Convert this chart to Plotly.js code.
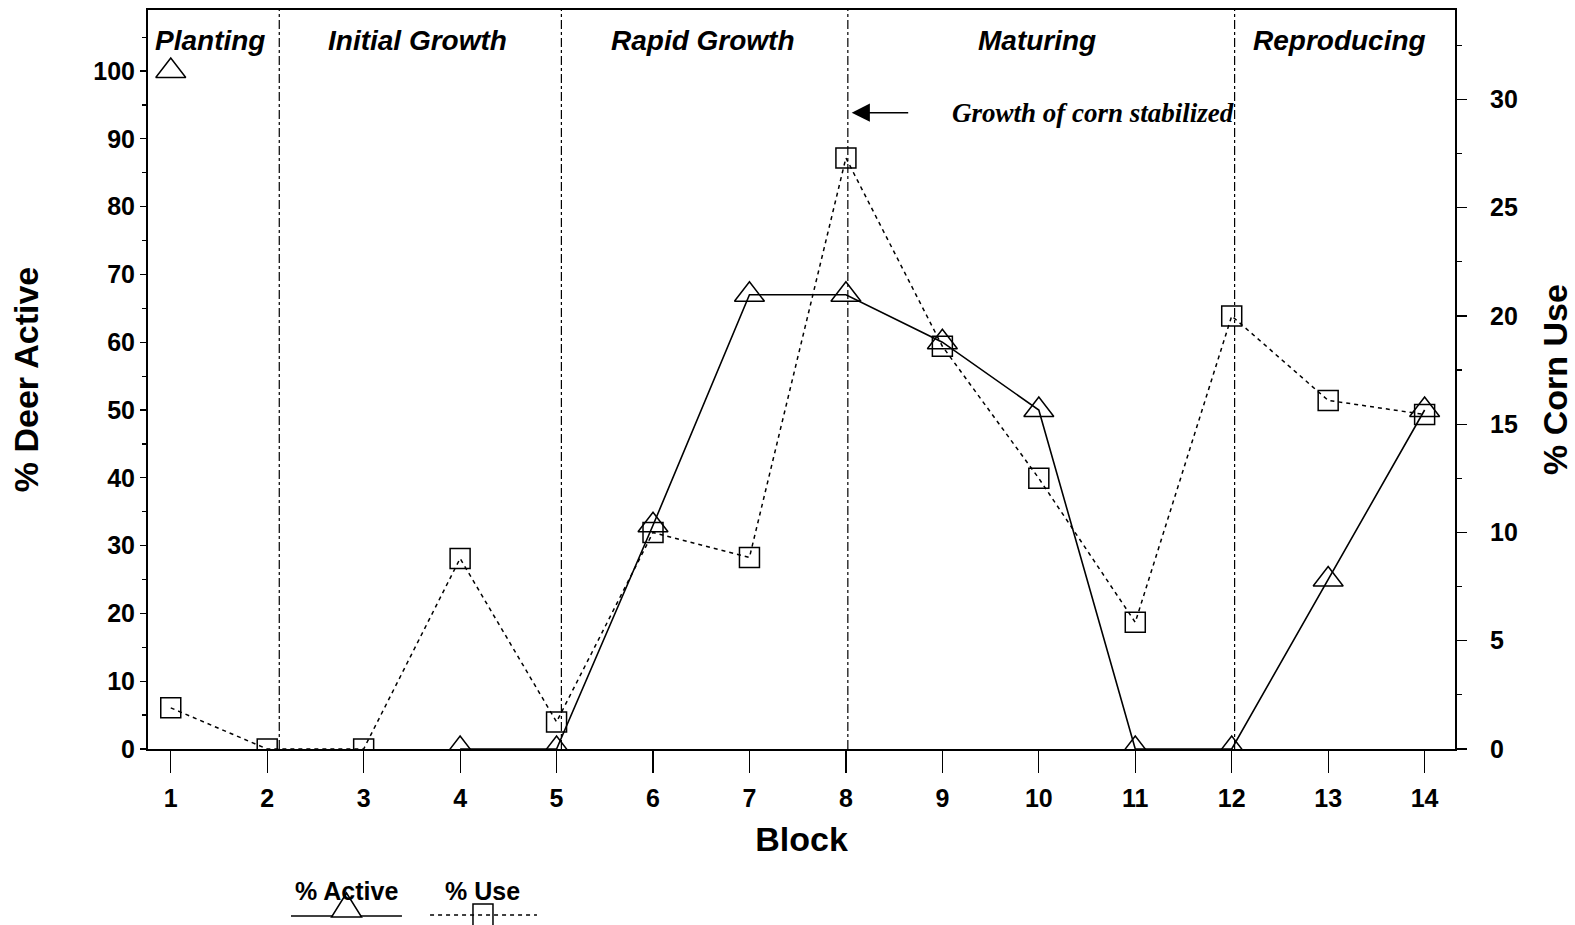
<!DOCTYPE html>
<html>
<head>
<meta charset="utf-8">
<script src="https://cdn.plot.ly/plotly-3.0.1.min.js"></script>
<style>html,body{margin:0;padding:0;background:#fff;}#chart{width:1575px;height:925px;}</style>
</head>
<body>
<div id="chart"></div>
<script>
// ---- data ----
var blocks = [1, 2, 3, 4, 5, 6, 7, 8, 9, 10, 11, 12, 13, 14];
var pctActive = [100, null, null, 0, 0, 33, 67, 67, 60, 50, 0, 0, 25, 50];
var pctUse = [1.9, 0, 0, 8.8, 1.25, 10.0, 8.85, 27.3, 18.6, 12.5, 5.85, 20.0, 16.1, 15.45];
var phaseNames = ["Planting", "Initial Growth", "Rapid Growth", "Maturing", "Reproducing"];
var phaseLabelX = [1.41, 3.56, 6.52, 9.98, 13.12];
var phaseBoundaries = [2.125, 5.05, 8.02, 12.03];
var noteText = "Growth of corn stabilized";
var noteBlock = 8.06;
var leftTicks = [0, 10, 20, 30, 40, 50, 60, 70, 80, 90, 100];
var rightTicks = [0, 5, 10, 15, 20, 25, 30];

var SANS = "Liberation Sans, Arial, Helvetica, sans-serif";
var SERIF = "Liberation Serif, Times New Roman, serif";

var traces = [
  {
    x: blocks, y: pctActive, name: "% Active", yaxis: "y",
    mode: "lines+markers", connectgaps: false,
    line: {color: "#000", width: 1.6, dash: "solid"},
    marker: {symbol: "triangle-up-open", size: 26, color: "#000", line: {width: 1.5, color: "#000"}},
    showlegend: false
  },
  {
    x: blocks, y: pctUse, name: "% Use", yaxis: "y2",
    mode: "lines+markers",
    line: {color: "#000", width: 1.5, dash: "4px,4px"},
    marker: {symbol: "square-open", size: 20, color: "#000", line: {width: 1.5, color: "#000"}},
    showlegend: false
  }
];

var shapes = [];
phaseBoundaries.forEach(function (b) {
  shapes.push({type: "line", xref: "x", yref: "paper", x0: b, x1: b, y0: 0, y1: 1,
    line: {color: "#000", width: 1.2, dash: "dashdot"}, layer: "below"});
});
// custom legend samples
shapes.push({type: "line", xref: "paper", yref: "paper", x0: 0.1094, x1: 0.1943, y0: -0.226, y1: -0.226,
  line: {color: "#000", width: 1.6}});
shapes.push({type: "path", xref: "paper", yref: "paper", xsizemode: "pixel", ysizemode: "pixel",
  xanchor: 0.1519, yanchor: -0.226, path: "M -15 -1 L 15 -1 L 0 23 Z",
  fillcolor: "#fff", line: {color: "#000", width: 1.5}});
shapes.push({type: "line", xref: "paper", yref: "paper", x0: 0.2158, x1: 0.2976, y0: -0.2246, y1: -0.2246,
  line: {color: "#000", width: 1.5, dash: "4px,4px"}});
shapes.push({type: "rect", xref: "paper", yref: "paper", xsizemode: "pixel", ysizemode: "pixel",
  xanchor: 0.2563, yanchor: -0.2246, x0: -10, x1: 10, y0: -11, y1: 11,
  fillcolor: "rgba(0,0,0,0)", line: {color: "#000", width: 1.5}});

var annotations = [];
phaseNames.forEach(function (n, i) {
  annotations.push({text: n, xref: "x", yref: "paper", x: phaseLabelX[i], y: 0.959,
    showarrow: false, xanchor: "center", yanchor: "middle",
    font: {family: SANS, size: 28, weight: 700, style: "italic", color: "#000"}});
});
annotations.push({text: noteText, xref: "x", yref: "paper", x: 10.56, y: 0.861, showarrow: false,
  xanchor: "center", yanchor: "middle",
  font: {family: SERIF, size: 27, style: "italic", weight: 700, color: "#000"}});
annotations.push({text: "", xref: "x", yref: "paper", x: noteBlock, y: 0.861,
  showarrow: true, axref: "pixel", ayref: "pixel", ax: 58, ay: 0,
  arrowhead: 2, arrowsize: 2.6, arrowwidth: 1.4, arrowcolor: "#000"});
annotations.push({text: "% Active", xref: "paper", yref: "paper", x: 0.1519, y: -0.192, showarrow: false,
  xanchor: "center", yanchor: "middle", font: {family: SANS, size: 25, weight: 700, color: "#000"}});
annotations.push({text: "% Use", xref: "paper", yref: "paper", x: 0.2563, y: -0.192, showarrow: false,
  xanchor: "center", yanchor: "middle", font: {family: SANS, size: 25, weight: 700, color: "#000"}});

var tickFont = {family: SANS, size: 25, weight: 700, color: "#000"};

var layout = {
  width: 1575, height: 925,
  margin: {l: 148, r: 120, t: 10, b: 176},
  paper_bgcolor: "#fff", plot_bgcolor: "#fff",
  showlegend: false,
  xaxis: {
    range: [0.764, 14.315], tickvals: blocks, ticktext: blocks.map(String),
    ticks: "outside", ticklen: 22, tickwidth: 1.2, tickcolor: "#000",
    showline: true, linecolor: "#000", linewidth: 2, mirror: true,
    showgrid: false, zeroline: false, tickfont: tickFont, ticklabelstandoff: 4,
    title: {text: "Block", font: {family: SANS, size: 34, weight: 700, color: "#000"}, standoff: 16}
  },
  yaxis: {
    range: [0, 109], tickvals: leftTicks, ticktext: leftTicks.map(String),
    ticks: "outside", ticklen: 6, tickwidth: 1.2, tickcolor: "#000",
    minor: {dtick: 5, ticks: "outside", ticklen: 4, tickcolor: "#000", showgrid: false},
    showline: true, linecolor: "#000", linewidth: 2,
    showgrid: false, zeroline: false, tickfont: tickFont,
    title: {text: "% Deer Active", font: {family: SANS, size: 34, weight: 700, color: "#000"}, standoff: 44}
  },
  yaxis2: {
    overlaying: "y", side: "right",
    range: [0, 34.13], tickvals: rightTicks, ticktext: rightTicks.map(String),
    ticks: "outside", ticklen: 10, tickwidth: 1.2, tickcolor: "#000",
    minor: {dtick: 2.5, ticks: "outside", ticklen: 5, tickcolor: "#000", showgrid: false},
    showline: true, linecolor: "#000", linewidth: 2,
    showgrid: false, zeroline: false, tickfont: tickFont, ticklabelstandoff: 18,
    title: {text: "% Corn Use", font: {family: SANS, size: 34, weight: 700, color: "#000"}, standoff: 26}
  },
  shapes: shapes,
  annotations: annotations
};

Plotly.newPlot("chart", traces, layout, {displayModeBar: false, staticPlot: true});
</script>
</body>
</html>
